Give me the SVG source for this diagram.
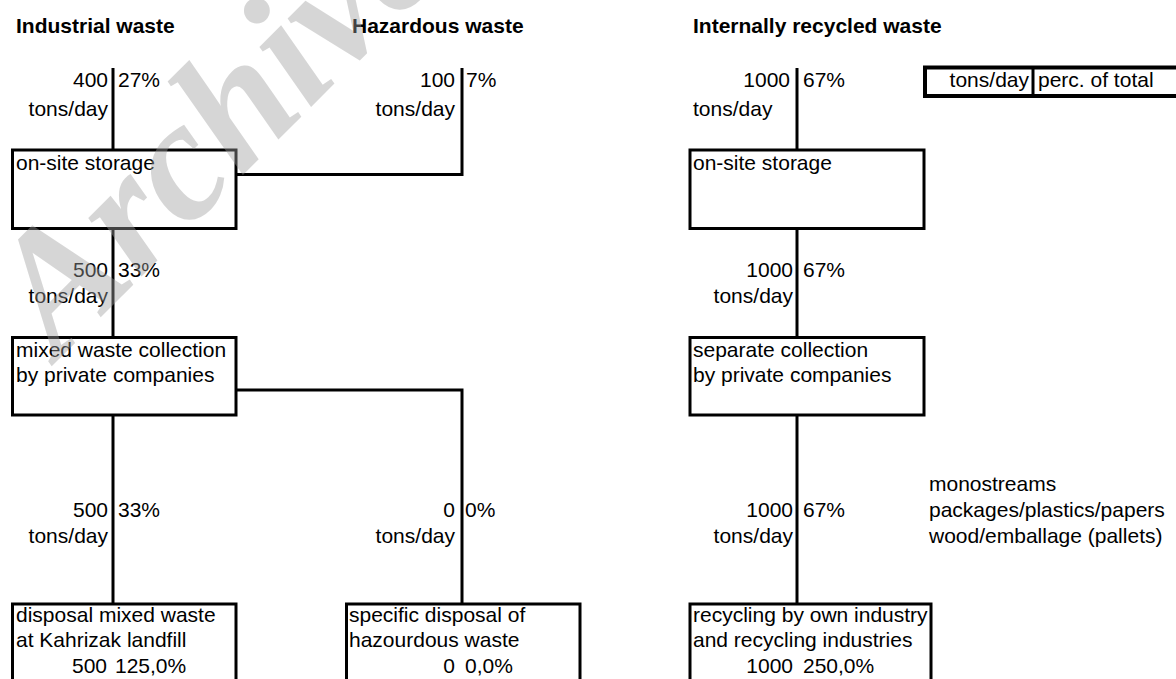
<svg xmlns="http://www.w3.org/2000/svg" width="1176" height="679" viewBox="0 0 1176 679">
<style>
text{font-family:"Liberation Sans",Arial,sans-serif;font-size:21px;fill:#000}
.t{font-weight:bold}
.r{text-anchor:end}
.box{fill:#fff;stroke:#000;stroke-width:3}
.ln{fill:none;stroke:#000;stroke-width:3}
.wm{font-family:"Liberation Serif","Times New Roman",serif;font-weight:bold;font-style:italic;font-size:172px;fill:#a0a0a0;opacity:0.42}
</style>
<rect width="1176" height="679" fill="#fff"/>
<g id="titles">
<text class="t" x="16" y="33">Industrial waste</text>
<text class="t" x="352" y="33">Hazardous waste</text>
<text class="t" x="693" y="33">Internally recycled waste</text>
</g>
<g id="connectors">
<path class="ln" d="M113,68V150"/>
<path class="ln" d="M462,68V174.5H236"/>
<path class="ln" d="M797,68V150"/>
<path class="ln" d="M113,228.5V337.5"/>
<path class="ln" d="M797,228.5V337.5"/>
<path class="ln" d="M113,415V604"/>
<path class="ln" d="M236,390H462V604"/>
<path class="ln" d="M797,415V604"/>
</g>
<g id="flow-labels">
<text class="r" x="108" y="87">400</text><text x="118" y="87">27%</text>
<text class="r" x="108" y="116">tons/day</text>
<text class="r" x="455" y="87">100</text><text x="466" y="87">7%</text>
<text class="r" x="455" y="116">tons/day</text>
<text class="r" x="790" y="87">1000</text><text x="803" y="87">67%</text>
<text x="693" y="116">tons/day</text>
<text class="r" x="108" y="277">500</text><text x="118" y="277">33%</text>
<text class="r" x="108" y="303">tons/day</text>
<text class="r" x="793" y="277">1000</text><text x="803" y="277">67%</text>
<text class="r" x="793" y="303">tons/day</text>
<text class="r" x="108" y="517">500</text><text x="118" y="517">33%</text>
<text class="r" x="108" y="543">tons/day</text>
<text class="r" x="455" y="517">0</text><text x="465" y="517">0%</text>
<text class="r" x="455" y="543">tons/day</text>
<text class="r" x="793" y="517">1000</text><text x="803" y="517">67%</text>
<text class="r" x="793" y="543">tons/day</text>
</g>
<g id="node-onsite-industrial">
<rect class="box" x="12.5" y="150" width="223.5" height="78.5"/>
<text x="16" y="170">on-site storage</text>
</g>
<g id="node-onsite-recycled">
<rect class="box" x="690" y="150" width="234" height="78.5"/>
<text x="693" y="170">on-site storage</text>
</g>
<g id="node-mixed-collection">
<rect class="box" x="12.5" y="337.5" width="223.5" height="77.5"/>
<text x="16" y="357">mixed waste collection</text>
<text x="16" y="382">by private companies</text>
</g>
<g id="node-separate-collection">
<rect class="box" x="690" y="337.5" width="234" height="77.5"/>
<text x="693" y="357">separate collection</text>
<text x="693" y="382">by private companies</text>
</g>
<g id="node-disposal-mixed">
<rect class="box" x="12.5" y="604" width="223.5" height="90"/>
<text x="16" y="622">disposal mixed waste</text>
<text x="16" y="647">at Kahrizak landfill</text>
<text class="r" x="107" y="673">500</text><text x="115" y="673">125,0%</text>
</g>
<g id="node-disposal-hazardous">
<rect class="box" x="346.5" y="604" width="233.5" height="90"/>
<text x="349" y="622">specific disposal of</text>
<text x="349" y="647">hazourdous waste</text>
<text class="r" x="455" y="673">0</text><text x="465" y="673">0,0%</text>
</g>
<g id="node-recycling">
<rect class="box" x="690" y="604" width="241" height="90"/>
<text x="693" y="622">recycling by own industry</text>
<text x="693" y="647">and recycling industries</text>
<text class="r" x="793" y="673">1000</text><text x="803" y="673">250,0%</text>
</g>
<g id="note-monostreams">
<text x="929" y="491">monostreams</text>
<text x="929" y="517">packages/plastics/papers</text>
<text x="929" y="543">wood/emballage (pallets)</text>
</g>
<g id="legend">
<rect x="925" y="67.5" width="260" height="28.5" fill="#fff" stroke="#000" stroke-width="4"/>
<path class="ln" d="M1033,67.5V96"/>
<text class="r" x="1029" y="87">tons/day</text>
<text x="1038" y="87">perc. of total</text>
</g>
<text class="wm" transform="translate(58,360) rotate(-45)">Archive</text>
</svg>
